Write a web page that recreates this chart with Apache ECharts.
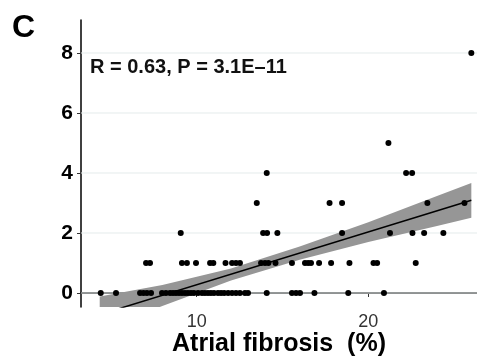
<!DOCTYPE html>
<html><head><meta charset="utf-8">
<script src="https://cdn.jsdelivr.net/npm/echarts@6/dist/echarts.min.js"></script>
<style>html,body{margin:0;padding:0;background:#fff}#c{width:477px;height:358px}</style>
</head><body><div id="c"></div>
<script>
// Atrial fibrosis (%) of the samples, grouped by their score (y value)
const fibrosisScore0 = [4.41, 5.30, 6.70, 6.90, 7.10, 7.34, 7.98, 8.21, 8.45, 8.62, 8.79, 8.97, 9.14, 9.32, 9.49, 9.67, 9.84, 10.08, 10.31, 10.48, 10.66, 10.83, 11.01, 11.24, 11.42, 11.60, 11.83, 12.06, 12.29, 12.52, 12.81, 12.99, 14.08, 15.55, 15.79, 16.02, 16.86, 18.83, 20.91];
const fibrosisScore1 = [7.05, 7.28, 9.14, 9.43, 9.96, 10.78, 10.97, 11.68, 12.06, 12.29, 12.52, 13.75, 13.98, 14.18, 14.59, 15.55, 16.31, 16.49, 16.66, 17.13, 17.83, 18.90, 20.30, 20.51, 22.76];
const fibrosisScore2 = [9.07, 13.87, 14.10, 14.70, 18.47, 21.26, 22.57, 23.25, 24.37];
const fibrosisScore3 = [13.50, 17.74, 18.47, 23.44, 25.60];
const fibrosisScore4 = [14.08, 22.20, 22.55];
const fibrosisScore5 = [21.17];
const fibrosisScore8 = [26.0];
const scoreLevels = [0, 1, 2, 3, 4, 5, 8];
const fibrosisGroups = [fibrosisScore0, fibrosisScore1, fibrosisScore2, fibrosisScore3, fibrosisScore4, fibrosisScore5, fibrosisScore8];

// Linear fit and its confidence band
const fitX = [4.35, 26.0];
const fitY = [-0.72, 3.09];
const bandX = [4.35, 8, 12, 16, 20, 24, 26];
const bandUpper = [-0.12, 0.27, 0.82, 1.55, 2.36, 3.23, 3.67];
const bandLower = [-1.32, -0.43, 0.42, 1.11, 1.70, 2.23, 2.51];

const xRange = [3.26, 26.33];
const yRange = [-0.467, 9.1];
const xTicks = [10, 20];
const yTicks = [0, 2, 4, 6, 8];
const annotation = 'R = 0.63, P = 3.1E\u201311';
const panelLabel = 'C';
const xTitle = 'Atrial fibrosis  (%)';

const points = [];
fibrosisGroups.forEach((g, i) => g.forEach(x => points.push([x, scoreLevels[i]])));

const chart = echarts.init(document.getElementById('c'), null, {renderer: 'canvas'});
const font = 'Liberation Sans, Arial, sans-serif';

const gridSeries = yTicks.map(v => ({
  type: 'line', z: 0, silent: true, symbol: 'none',
  data: [[xRange[0], v], [xRange[1], v]],
  lineStyle: {color: '#e4ebeb', width: 1}
}));

chart.setOption({
  animation: false,
  grid: {left: 81, top: 20, right: 0, bottom: 51, containLabel: false, outerBoundsMode: 'none'},
  xAxis: {
    type: 'value', min: xRange[0], max: xRange[1],
    axisLine: {show: true, lineStyle: {color: '#000', width: 1.5}},
    axisTick: {show: true, customValues: xTicks, length: 4, lineStyle: {color: '#333'}},
    axisLabel: {customValues: xTicks, color: '#333', fontSize: 18, fontFamily: font, margin: 6},
    splitLine: {show: false},
    name: xTitle, nameLocation: 'middle', nameGap: 25, nameMoveOverlap: false,
    nameTextStyle: {color: '#000', fontSize: 25, fontWeight: 'bold', fontFamily: font}
  },
  yAxis: {
    type: 'value', min: yRange[0], max: yRange[1],
    axisLine: {show: true, lineStyle: {color: '#000', width: 1.5}},
    axisTick: {show: true, customValues: yTicks, length: 4, lineStyle: {color: '#333'}},
    axisLabel: {customValues: yTicks, color: '#000', fontSize: 21, fontWeight: 'bold', fontFamily: font, margin: 8},
    splitLine: {show: false}
  },
  graphic: [
    {type: 'text', left: 12, top: 12, style: {text: panelLabel, fontSize: 32, fontWeight: 'bold', fontFamily: font, fill: '#000'}},
    {type: 'text', left: 90, top: 57, style: {text: annotation, fontSize: 20, fontWeight: 'bold', fontFamily: font, fill: '#111'}}
  ],
  series: gridSeries.concat([
    {
      type: 'custom', silent: true, z: 1,
      data: bandX.map((x, i) => [x, bandLower[i], bandUpper[i]]),
      encode: {x: 0, y: [1, 2]},
      renderItem: (params, api) => {
        if (params.dataIndex !== 0) return null;
        const pts = [];
        bandX.forEach((x, i) => pts.push(api.coord([x, bandUpper[i]])));
        for (let i = bandX.length - 1; i >= 0; i--) pts.push(api.coord([bandX[i], bandLower[i]]));
        const cs = params.coordSys;
        return {type: 'group', clipPath: {type: 'rect', shape: {x: cs.x, y: cs.y, width: cs.width, height: cs.height}},
          children: [{type: 'polygon', shape: {points: pts}, style: {fill: '#969696'}}]};
      }
    },
    {
      type: 'line', z: 3, silent: true, symbol: 'none',
      data: fitX.map((x, i) => [x, fitY[i]]),
      lineStyle: {color: '#000', width: 1.5}
    },
    {
      type: 'scatter', z: 4, silent: true, symbolSize: 6,
      itemStyle: {color: '#000', opacity: 1},
      data: points
    }
  ])
});
</script>
</body></html>
